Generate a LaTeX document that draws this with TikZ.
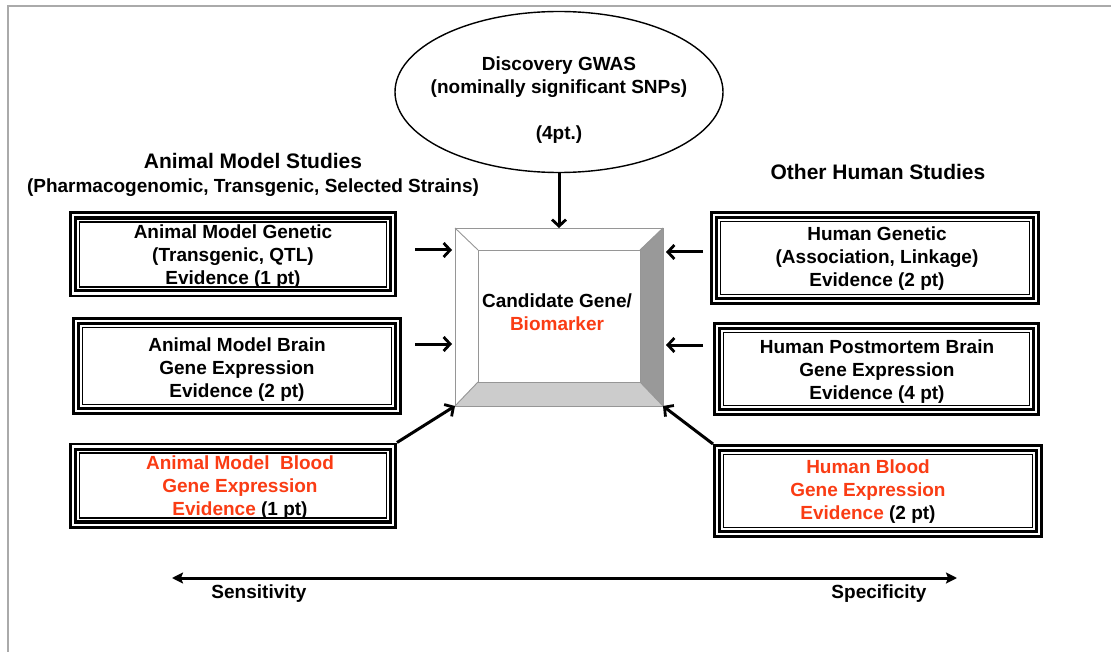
\documentclass[tikz,border=0pt]{standalone}
\usepackage{fontspec}
\setmainfont{Liberation Sans}
\usetikzlibrary{arrows.meta,shapes.geometric}
\definecolor{hred}{RGB}{250,60,20}
\definecolor{framegray}{RGB}{170,170,170}
\definecolor{bevgray}{RGB}{153,153,153}
\definecolor{bevlight}{RGB}{204,204,204}
\definecolor{bevline}{RGB}{150,150,150}
\begin{document}
\begin{tikzpicture}[x=1pt,y=-1pt,
  txt/.style={font=\fontsize{19}{23}\selectfont\bfseries, align=center, inner sep=0pt, outer sep=0pt, yshift=-3pt},
  head/.style={font=\fontsize{21}{25}\selectfont\bfseries, align=center, inner sep=0pt},
  boxn/.style={rectangle, draw=none, inner sep=0pt, outer sep=0pt},
  arr/.style={line width=3pt, -{Straight Barb[length=6.5pt,width=14pt,line width=2.8pt]}},
  biarr/.style={line width=3pt, {Stealth[length=11pt,width=11pt,inset=2pt]}-{Stealth[length=11pt,width=11pt,inset=2pt]}}
]
\useasboundingbox (0,0) rectangle (1111,652);
\fill[white] (0,0) rectangle (1111,652);
% slide frame
\draw[framegray, line width=1.5pt] (8,652) -- (8,6) -- (1111,6);

% headers
\node[head] (animhead) at (253,161) {Animal Model Studies};
\node[txt] (animsub) at (253,185) {(Pharmacogenomic, Transgenic, Selected Strains)};
\node[head] (humhead) at (878,172) {Other Human Studies};

% GWAS ellipse
\node[ellipse, draw, line width=1.4pt, minimum width=328pt, minimum height=161pt, inner sep=0pt] (gwas) at (559,92) {};
\node[txt] (gwastxt) at (559,97) {Discovery GWAS\\(nominally significant SNPs)\\[23pt](4pt.)};

% boxes
\node[boxn, minimum width=328pt, minimum height=86pt] (b1) at (233,254.5) {};
\node[boxn, minimum width=330pt, minimum height=98pt] (b2) at (237,366) {};
\node[boxn, minimum width=328pt, minimum height=86pt] (b3) at (233,485.5) {};
\node[boxn, minimum width=330pt, minimum height=94pt] (r1) at (875,258) {};
\node[boxn, minimum width=327pt, minimum height=94pt] (r2) at (876.5,369) {};
\node[boxn, minimum width=330pt, minimum height=94pt] (r3) at (878,491) {};

\foreach \n in {b1,b2,b3,r1,r2,r3} {
  \draw[line width=2.8pt] ([shift={(1.4,1.4)}]\n.north west) rectangle ([shift={(-1.4,-1.4)}]\n.south east);
  \draw[line width=3.4pt] ([shift={(6.7,6.7)}]\n.north west) rectangle ([shift={(-6.7,-6.7)}]\n.south east);
  \draw[line width=1.4pt] ([shift={(10.5,10.5)}]\n.north west) rectangle ([shift={(-10.5,-10.5)}]\n.south east);
}

\node[txt] (b1t) at (233,254) {Animal Model Genetic\\(Transgenic, QTL)\\Evidence (1 pt)};
\node[txt] (b2t) at (237,367) {Animal Model Brain\\Gene Expression\\Evidence (2 pt)};
\node[txt] (b3t) at (240,485) {\textcolor{hred}{Animal Model\ \ Blood}\\\textcolor{hred}{Gene Expression}\\\textcolor{hred}{Evidence} (1 pt)};
\node[txt] (r1t) at (877,256) {Human Genetic\\(Association, Linkage)\\Evidence (2 pt)};
\node[txt] (r2t) at (877,369) {Human Postmortem Brain\\Gene Expression\\Evidence (4 pt)};
\node[txt] (r3t) at (868,489) {\textcolor{hred}{Human Blood}\\\textcolor{hred}{Gene Expression}\\\textcolor{hred}{Evidence} (2 pt)};

% candidate bevel box
\node[boxn, minimum width=208pt, minimum height=178pt] (cand) at (559,317) {};
\node[boxn, minimum width=162pt, minimum height=132pt] (candin) at (559,316) {};
\fill[white] (cand.north west) -- (cand.north east) -- (candin.north east) -- (candin.north west) -- cycle;
\fill[white] (cand.north west) -- (candin.north west) -- (candin.south west) -- (cand.south west) -- cycle;
\fill[bevgray] (cand.north east) -- (cand.south east) -- (candin.south east) -- (candin.north east) -- cycle;
\fill[bevlight] (cand.south west) -- (candin.south west) -- (candin.south east) -- (cand.south east) -- cycle;
\draw[bevline, line width=0.9pt] (cand.north west) rectangle (cand.south east);
\draw[bevline, line width=0.9pt] (candin.north west) rectangle (candin.south east);
\draw[bevline, line width=0.9pt] (cand.north west) -- (candin.north west);
\draw[bevline, line width=0.9pt] (cand.north east) -- (candin.north east);
\draw[bevline, line width=0.9pt] (cand.south west) -- (candin.south west);
\draw[bevline, line width=0.9pt] (cand.south east) -- (candin.south east);
\node[txt] (candt) at (557,309) {Candidate Gene/\\\textcolor{hred}{Biomarker}};

% arrows
\draw[arr] (gwas.south) -- (cand.north);
\coordinate (la1) at (415,250);
\coordinate (la2) at (415,344);
\coordinate (ra1) at (703,252);
\coordinate (ra2) at (703,345);
\draw[arr] (la1) -- ([xshift=-3pt]cand.west |- la1);
\draw[arr] (la2) -- ([xshift=-3pt]cand.west |- la2);
\draw[arr] (ra1) -- ([xshift=3pt]cand.east |- ra1);
\draw[arr] (ra2) -- ([xshift=3pt]cand.east |- ra2);
\draw[arr] (b3.north east) -- (cand.south west);
\draw[arr] (r3.north west) -- (cand.south east);

% sensitivity / specificity
\coordinate (sl) at (172,578);
\coordinate (sr) at (957,578);
\draw[biarr] (sl) -- (sr);
\node[txt] (sens) at (259,591) {Sensitivity};
\node[txt] (spec) at (879,591) {Specificity};
\end{tikzpicture}
\end{document}
